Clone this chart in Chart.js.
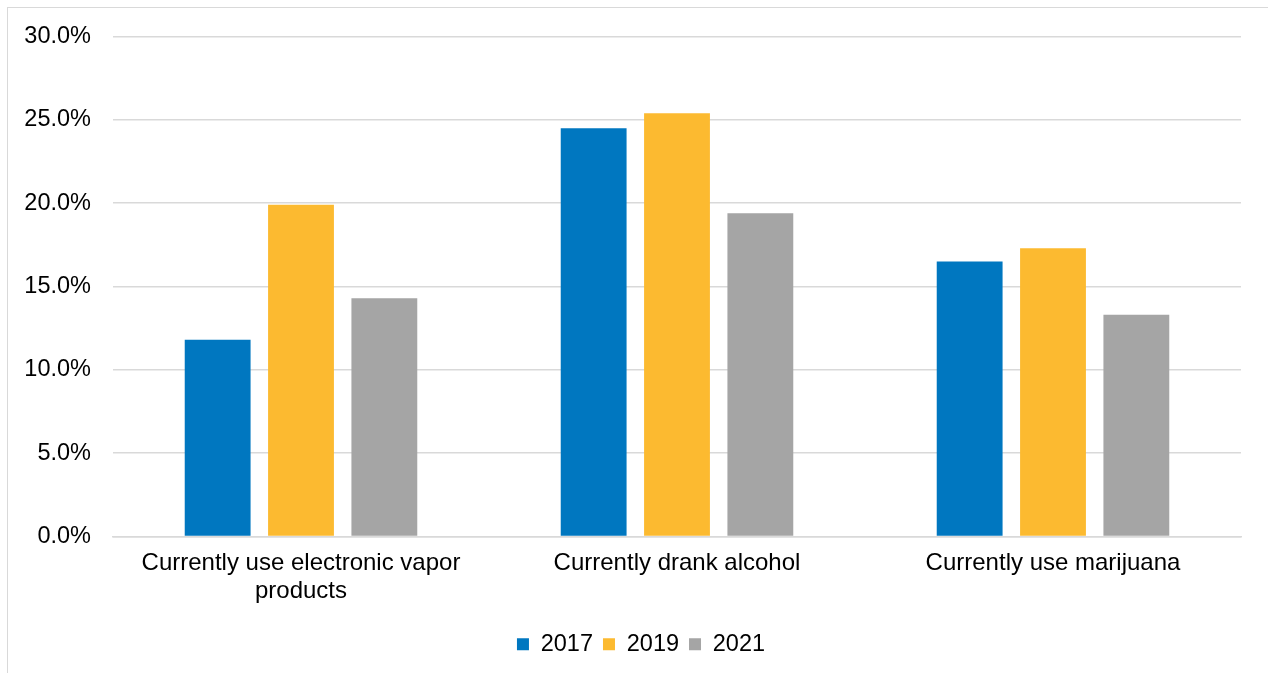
<!DOCTYPE html>
<html>
<head>
<meta charset="utf-8">
<script src="https://cdn.jsdelivr.net/npm/chart.js@4/dist/chart.umd.min.js"></script>
<style>
  html, body { margin: 0; padding: 0; background: #fff; overflow: hidden; }
  #frame { position: absolute; left: 7px; top: 7px; width: 1300px; height: 700px; border: 1px solid #d9d9d9; box-sizing: border-box; }
  #chart { position: absolute; left: 0; top: 0; }
</style>
</head>
<body>
<div id="frame"></div>
<canvas id="chart" width="1268" height="673"></canvas>
<script>
// Categories and yearly percentages
const categories = [['Currently use electronic vapor', 'products'], 'Currently drank alcohol', 'Currently use marijuana'];
const years = ['2017', '2019', '2021'];
const values2017 = [11.8, 24.5, 16.5];
const values2019 = [19.9, 25.4, 17.3];
const values2021 = [14.3, 19.4, 13.3];
const yTicks = [0, 5, 10, 15, 20, 25, 30];

const colors = ['#0077C0', '#FCBA30', '#A5A5A5'];
const seriesValues = [values2017, values2019, values2021];

const FAMILY = '"Liberation Sans", Arial, sans-serif';
const TICK_FONT = { family: FAMILY, size: 23.5, lineHeight: 1.2 };
const CAT_FONT = { family: FAMILY, size: 24, lineHeight: 1.17 };
const LEGEND_FONT = { family: FAMILY, size: 23.5, lineHeight: 1.2 };

// Center the legend on the whole canvas width rather than the padded layout box
const legendCentering = {
  id: 'legendCentering',
  afterLayout(chart) {
    const lg = chart.legend;
    if (!lg) return;
    const shift = chart.width / 2 - (lg.left + lg.right) / 2 + 7;
    lg.left += shift;
    lg.right += shift;
  }
};

new Chart(document.getElementById('chart'), {
  type: 'bar',
  data: {
    labels: categories,
    datasets: years.map((y, i) => ({
      label: y,
      data: seriesValues[i],
      backgroundColor: colors[i],
      borderWidth: 0,
      categoryPercentage: 0.665,
      barPercentage: 0.79
    }))
  },
  plugins: [legendCentering],
  options: {
    responsive: false,
    animation: false,
    devicePixelRatio: 1,
    layout: { padding: { left: 0, top: 36.5, right: 27, bottom: 7 } },
    plugins: {
      legend: {
        position: 'bottom',
        labels: {
          font: LEGEND_FONT,
          color: '#000',
          boxWidth: 12,
          boxHeight: 12,
          padding: 10
        }
      },
      tooltip: { enabled: false }
    },
    scales: {
      x: {
        grid: { display: false, drawTicks: false },
        border: { display: true, color: '#d9d9d9', width: 1.5 },
        ticks: { font: CAT_FONT, color: '#000', padding: 13, maxRotation: 0, autoSkip: false },
        afterFit: (s) => { s.height = 86; }
      },
      y: {
        min: 0,
        max: 30,
        afterBuildTicks: (s) => { s.ticks = yTicks.map(v => ({ value: v })); },
        grid: { color: '#d9d9d9', lineWidth: 1.5, drawTicks: false },
        border: { display: false },
        ticks: {
          font: TICK_FONT,
          color: '#000',
          padding: 22,
          callback: (v) => v.toFixed(1) + '%'
        },
        afterFit: (s) => { s.width = 113; }
      }
    }
  }
});
</script>
</body>
</html>
